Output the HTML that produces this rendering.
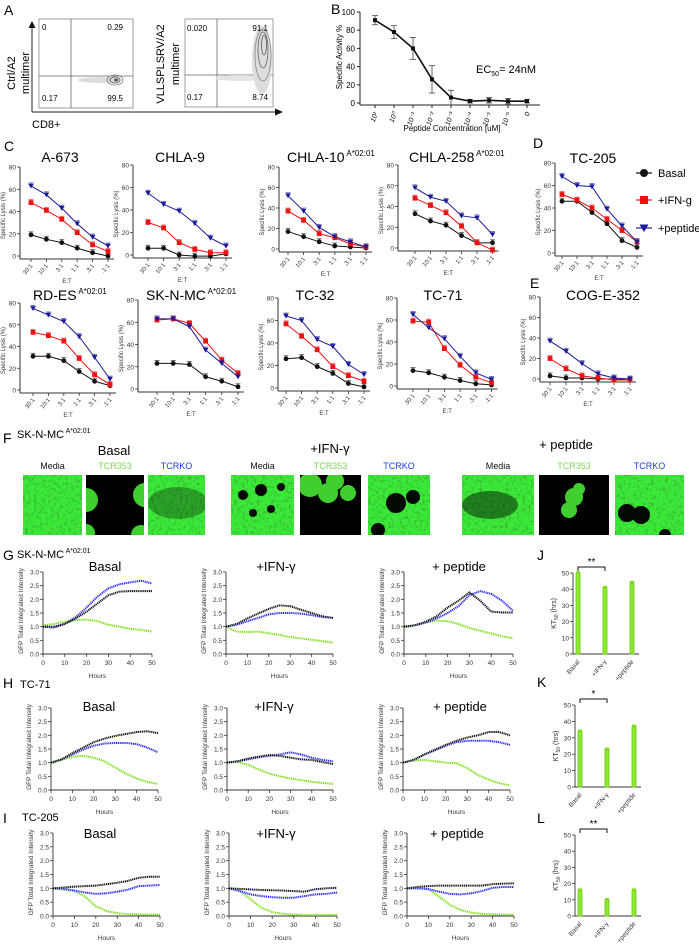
<!DOCTYPE html>
<html><head><meta charset="utf-8"><title>Figure</title>
<style>
html,body{margin:0;padding:0;background:#fff;}
svg{display:block;font-family:"Liberation Sans",Arial,sans-serif;}
</style></head>
<body>
<svg id="fig" width="699" height="945" viewBox="0 0 699 945" xmlns="http://www.w3.org/2000/svg">
<defs id="defs">
<filter id="tex" x="0" y="0" width="100%" height="100%">
<feTurbulence type="fractalNoise" baseFrequency="0.35" numOctaves="2" seed="3"/>
<feColorMatrix type="matrix" values="0 0 0 0 0.05  1.6 0 0 0 0.15  0 0 0 0 0.05  0 0 0 0 1"/>
</filter>
</defs>
<g>
<text x="4" y="15" font-size="14">A</text>
<rect x="39" y="19" width="94" height="89" fill="none" stroke="#888" stroke-width="0.8"/>
<line x1="71" y1="19" x2="71" y2="108" stroke="#666" stroke-width="0.8"/>
<line x1="39" y1="76" x2="133" y2="76" stroke="#666" stroke-width="0.8"/>
<g fill="#aaa">
<ellipse cx="100" cy="80" rx="22" ry="3" fill="#ddd"/>
<ellipse cx="115" cy="80" rx="8" ry="5" fill="none" stroke="#777" stroke-width="0.8"/>
<ellipse cx="115" cy="80" rx="5" ry="3" fill="none" stroke="#555" stroke-width="0.8"/>
<ellipse cx="116" cy="80" rx="2" ry="1.5" fill="#555"/>
</g>
<text x="42" y="30" font-size="8">0</text>
<text x="123" y="30" font-size="8" text-anchor="end">0.29</text>
<text x="42" y="101" font-size="8">0.17</text>
<text x="123" y="101" font-size="8" text-anchor="end">99.5</text>
<rect x="185" y="19" width="88" height="88" fill="none" stroke="#888" stroke-width="0.8"/>
<line x1="217" y1="19" x2="217" y2="107" stroke="#666" stroke-width="0.8"/>
<line x1="185" y1="75" x2="273" y2="75" stroke="#666" stroke-width="0.8"/>
<g>
<ellipse cx="240" cy="78" rx="25" ry="3" fill="#e4e4e4"/>
<ellipse cx="262" cy="60" rx="10" ry="34" fill="#ddd"/>
<ellipse cx="263" cy="55" rx="8" ry="26" fill="none" stroke="#888" stroke-width="0.8"/>
<ellipse cx="263" cy="50" rx="5" ry="18" fill="none" stroke="#666" stroke-width="0.8"/>
<ellipse cx="264" cy="45" rx="2.5" ry="10" fill="none" stroke="#555" stroke-width="0.8"/>
</g>
<text x="187" y="31" font-size="8">0.020</text>
<text x="268" y="31" font-size="8" text-anchor="end">91.1</text>
<text x="187" y="100" font-size="8">0.17</text>
<text x="268" y="100" font-size="8" text-anchor="end">8.74</text>
<line x1="32" y1="26" x2="32" y2="112" stroke="#222" stroke-width="1"/>
<polygon points="32,21 28.5,28 35.5,28" fill="#111"/>
<line x1="32" y1="112" x2="277" y2="112" stroke="#222" stroke-width="1"/>
<polygon points="283,112 275,108.5 275,115.5" fill="#111"/>
<text transform="translate(15,73) rotate(-90)" font-size="11" text-anchor="middle">Ctrl/A2</text>
<text transform="translate(29,73) rotate(-90)" font-size="11" text-anchor="middle">multimer</text>
<text transform="translate(164,64) rotate(-90)" font-size="11" text-anchor="middle">VLLSPLSRV/A2</text>
<text transform="translate(179,64) rotate(-90)" font-size="11" text-anchor="middle">multimer</text>
<text x="32" y="128" font-size="11">CD8+</text>
</g>
<text x="331" y="14" font-size="14">B</text>
<text x="4" y="151" font-size="14">C</text>
<text x="533" y="148" font-size="14">D</text>
<text x="530" y="288" font-size="14">E</text>
<text x="3" y="443" font-size="14">F</text>
<text x="3" y="560" font-size="14">G</text>
<text x="3" y="688" font-size="14">H</text>
<text x="3" y="823" font-size="14">I</text>
<text x="537" y="560" font-size="14">J</text>
<text x="537" y="687" font-size="14">K</text>
<text x="537" y="823" font-size="14">L</text>
<text x="17" y="438" font-size="11">SK-N-MC<tspan dy="-5" font-size="7"> A*02:01</tspan></text>
<text x="17" y="558" font-size="11">SK-N-MC<tspan dy="-5" font-size="7"> A*02:01</tspan></text>
<text x="20" y="688" font-size="11">TC-71</text>
<text x="22" y="821" font-size="11">TC-205</text>
<g id="fpanel"></g>
</svg>
<script>
const bCats = ['10\u00B9','10\u2070','10\u207B\u00B9','10\u207B\u00B2','10\u207B\u00B3','10\u207B\u2074','10\u207B\u2075','10\u207B\u2076','0'];
const bValues = [91, 78, 60, 26, 6, 2, 3, 2, 2];
const bErrors = [5, 7, 12, 15, 8, 2, 3, 3, 2];
const bTicks = [0, 20, 40, 60, 80, 100];

const etCats = ['30:1','10:1','3:1','1:1','.3:1','.1:1'];
const lysisTicks = [0, 20, 40, 60, 80];
const a673Basal = [19, 15, 12, 7, 3, 0];
const a673Ifn = [48, 41, 33, 21, 10, 4];
const a673Pep = [63, 55, 43, 29, 17, 9];
const chla9Basal = [6, 6, 0, -1, -1, 1];
const chla9Ifn = [29, 24, 11, 5, 2, 2];
const chla9Pep = [55, 45, 39, 28, 15, 8];
const chla10Basal = [17, 12, 7, 3, 2, 1];
const chla10Ifn = [37, 28, 15, 11, 5, 2];
const chla10Pep = [52, 37, 21, 12, 7, 2];
const chla258Basal = [33, 26, 22, 12, 5, 5];
const chla258Ifn = [48, 41, 34, 21, 5, -2];
const chla258Pep = [58, 49, 45, 31, 29, 13];
const tc205Basal = [46, 46, 36, 26, 11, 5];
const tc205Ifn = [52, 47, 40, 30, 20, 10];
const tc205Pep = [68, 60, 59, 39, 24, 10];
const rdesBasal = [31, 31, 27, 17, 8, 4];
const rdesIfn = [53, 50, 45, 29, 14, 5];
const rdesPep = [75, 69, 63, 49, 30, 10];
const sknmcBasal = [23, 23, 22, 11, 7, 2];
const sknmcIfn = [62, 63, 59, 43, 26, 14];
const sknmcPep = [63, 63, 56, 35, 23, 11];
const tc32Basal = [26, 27, 19, 13, 4, 1];
const tc32Ifn = [57, 46, 34, 19, 11, 6];
const tc32Pep = [64, 60, 43, 37, 21, 12];
const tc71Basal = [14, 12, 8, 5, 2, 1];
const tc71Ifn = [59, 58, 34, 19, 8, 3];
const tc71Pep = [65, 53, 43, 27, 12, 6];
const cogBasal = [3, 1, 1, 0, 0, -1];
const cogIfn = [20, 10, 3, 1, -1, -1];
const cogPep = [37, 27, 15, 5, 1, 0];

const hours = [0, 5, 10, 15, 20, 25, 30, 35, 40, 45, 50];
const gfpTicks = [0, 0.5, 1.0, 1.5, 2.0, 2.5, 3.0];
const hourTicks = [0, 10, 20, 30, 40, 50];
const gBasalMedia = [1.0, 0.97, 1.1, 1.3, 1.55, 1.85, 2.15, 2.28, 2.3, 2.3, 2.3];
const gBasalKO = [1.0, 1.0, 1.1, 1.35, 1.7, 2.1, 2.4, 2.55, 2.62, 2.68, 2.58];
const gBasalTCR = [1.05, 1.1, 1.18, 1.24, 1.26, 1.2, 1.07, 1.0, 0.92, 0.88, 0.82];
const gIfnMedia = [1.0, 1.1, 1.3, 1.48, 1.65, 1.78, 1.75, 1.62, 1.5, 1.38, 1.32];
const gIfnKO = [1.0, 1.07, 1.2, 1.32, 1.45, 1.5, 1.5, 1.48, 1.42, 1.35, 1.32];
const gIfnTCR = [1.0, 0.82, 0.8, 0.82, 0.76, 0.7, 0.62, 0.57, 0.52, 0.47, 0.42];
const gPepMedia = [1.0, 1.05, 1.18, 1.38, 1.7, 1.95, 2.25, 1.95, 1.55, 1.52, 1.52];
const gPepKO = [1.0, 1.05, 1.15, 1.3, 1.5, 1.75, 2.15, 2.3, 2.2, 1.95, 1.58];
const gPepTCR = [0.97, 1.05, 1.15, 1.22, 1.2, 1.1, 0.95, 0.85, 0.75, 0.65, 0.58];
const hBasalMedia = [1.0, 1.12, 1.35, 1.55, 1.75, 1.88, 1.98, 2.05, 2.12, 2.15, 2.08];
const hBasalKO = [1.0, 1.12, 1.3, 1.48, 1.62, 1.7, 1.72, 1.72, 1.68, 1.55, 1.38];
const hBasalTCR = [0.97, 1.1, 1.22, 1.25, 1.18, 1.05, 0.82, 0.6, 0.42, 0.3, 0.22];
const hIfnMedia = [1.0, 1.05, 1.15, 1.22, 1.28, 1.25, 1.18, 1.12, 1.1, 1.02, 0.95];
const hIfnKO = [1.0, 1.05, 1.12, 1.2, 1.25, 1.3, 1.38, 1.3, 1.18, 1.1, 1.05];
const hIfnTCR = [1.0, 1.02, 0.92, 0.75, 0.6, 0.5, 0.42, 0.36, 0.3, 0.26, 0.22];
const hPepMedia = [1.0, 1.1, 1.3, 1.48, 1.65, 1.8, 1.92, 2.0, 2.12, 2.12, 2.0];
const hPepKO = [1.0, 1.1, 1.3, 1.45, 1.62, 1.75, 1.8, 1.8, 1.8, 1.75, 1.65];
const hPepTCR = [1.0, 1.08, 1.1, 1.05, 1.0, 0.98, 0.8, 0.55, 0.38, 0.25, 0.17];
const iBasalMedia = [1.0, 1.03, 1.06, 1.08, 1.1, 1.15, 1.2, 1.27, 1.38, 1.42, 1.42];
const iBasalKO = [1.0, 0.98, 0.92, 0.85, 0.8, 0.82, 0.88, 0.95, 1.08, 1.1, 1.12];
const iBasalTCR = [1.0, 0.95, 0.9, 0.7, 0.35, 0.18, 0.1, 0.07, 0.06, 0.05, 0.05];
const iIfnMedia = [1.0, 0.98, 0.96, 0.94, 0.93, 0.92, 0.9, 0.88, 0.97, 1.0, 1.02];
const iIfnKO = [1.0, 0.9, 0.78, 0.72, 0.68, 0.66, 0.66, 0.72, 0.78, 0.8, 0.85];
const iIfnTCR = [1.0, 0.92, 0.6, 0.3, 0.14, 0.08, 0.05, 0.04, 0.04, 0.04, 0.04];
const iPepMedia = [1.0, 1.05, 1.08, 1.1, 1.1, 1.1, 1.1, 1.1, 1.15, 1.17, 1.18];
const iPepKO = [1.0, 1.0, 0.97, 0.88, 0.8, 0.78, 0.82, 0.9, 1.02, 1.05, 1.05];
const iPepTCR = [1.0, 1.0, 0.98, 0.7, 0.4, 0.22, 0.12, 0.08, 0.06, 0.05, 0.05];

const ktCats = ['Basal', '+IFN-\u03B3', '+peptide'];
const ktTicks = [0, 10, 20, 30, 40, 50];
const jValues = [50, 41, 44];
const kValues = [34, 23, 37];
const lValues = [16, 10, 16];

const NS = 'http://www.w3.org/2000/svg';
const svg = document.getElementById('fig');
function mk(tag, attrs, parent) {
  const e = document.createElementNS(NS, tag);
  for (const k in attrs) e.setAttribute(k, attrs[k]);
  (parent || svg).appendChild(e);
  return e;
}
function txt(parent, x, y, s, size, anchor, extra) {
  const t = mk('text', Object.assign({x: x, y: y, 'font-size': size, 'text-anchor': anchor || 'start'}, extra || {}), parent);
  t.textContent = s;
  return t;
}

(function () {
  const g = mk('g', {});
  
  
  const ax = 360, yTop = 12, y0 = 103, x0 = 375, step = 19;
  const y = v => y0 - v / 100 * (y0 - yTop);
  const x = i => x0 + i * step;
  mk('line', {x1: ax, y1: yTop, x2: ax, y2: y0 + 2, stroke: '#222', 'stroke-width': 1}, g);
  mk('line', {x1: ax, y1: y0 + 2, x2: 540, y2: y0 + 2, stroke: '#222', 'stroke-width': 1}, g);
  bTicks.forEach(t => {
    mk('line', {x1: ax - 3, y1: y(t), x2: ax, y2: y(t), stroke: '#222', 'stroke-width': 1}, g);
    const l = txt(g, ax - 5, y(t) + 3, String(t), 8, 'end');
    
    
  });
  bCats.forEach((c, i) => {
    mk('line', {x1: x(i), y1: y0 + 2, x2: x(i), y2: y0 + 5, stroke: '#222', 'stroke-width': 1}, g);
    const l = txt(g, x(i) + 3, y0 + 10, c, 7, 'end', {transform: 'rotate(-70 ' + (x(i) + 3) + ' ' + (y0 + 10) + ')', 'font-style': 'italic'});
    
    
  });
  mk('polyline', {points: bValues.map((v, i) => x(i) + ',' + y(v)).join(' '), fill: 'none', stroke: '#111', 'stroke-width': 1.6}, g);
  bValues.forEach((v, i) => {
    const e = bErrors[i];
    mk('line', {x1: x(i), y1: y(v - e), x2: x(i), y2: y(v + e), stroke: '#444', 'stroke-width': 0.8}, g);
    mk('line', {x1: x(i) - 3, y1: y(v + e), x2: x(i) + 3, y2: y(v + e), stroke: '#444', 'stroke-width': 0.8}, g);
    mk('line', {x1: x(i) - 3, y1: y(v - e), x2: x(i) + 3, y2: y(v - e), stroke: '#444', 'stroke-width': 0.8}, g);
    const p = mk('rect', {x: x(i) - 2, y: y(v) - 2, width: 4, height: 4, fill: '#111'}, g);
    
    
  });
  const yl = txt(g, 0, 0, 'Specific Activity %', 8, 'middle', {transform: 'translate(342,57) rotate(-90)'});
  
  
  const xl = txt(g, 452, 131, 'Peptide Concentration [uM]', 8, 'middle');
  
  
  const ec = mk('text', {x: 476, y: 73, 'font-size': 11}, g);
  
  
  ec.innerHTML = 'EC<tspan font-size="7" dy="3">50</tspan><tspan dy="-3">= 24nM</tspan>';
})();

const RED = '#ee1111', BLUE = '#1a1a9a';
function lysis(cfg, basal, ifn, pep) {
  const g = mk('g', {});
  
  
  const y = v => cfg.y0 - v / 80 * (cfg.y0 - cfg.y80);
  const x = i => cfg.px0 + i * cfg.step;
  mk('line', {x1: cfg.ax, y1: cfg.y80, x2: cfg.ax, y2: cfg.y0 + 3, stroke: '#333', 'stroke-width': 1}, g);
  mk('line', {x1: cfg.ax, y1: cfg.y0 + 3, x2: x(5) + 6, y2: cfg.y0 + 3, stroke: '#333', 'stroke-width': 1}, g);
  lysisTicks.forEach(t => {
    mk('line', {x1: cfg.ax - 3, y1: y(t), x2: cfg.ax, y2: y(t), stroke: '#333', 'stroke-width': 0.8}, g);
    const l = txt(g, cfg.ax - 4, y(t) + 2.5, String(t), 6.5, 'end', {fill: '#333'});
    
    
  });
  etCats.forEach((c, i) => {
    mk('line', {x1: x(i), y1: cfg.y0 + 3, x2: x(i), y2: cfg.y0 + 6, stroke: '#333', 'stroke-width': 0.8}, g);
    const l = txt(g, x(i) + 2, cfg.y0 + 10, c, 6, 'end', {transform: 'rotate(-50 ' + (x(i) + 2) + ' ' + (cfg.y0 + 10) + ')', fill: '#333'});
    
    
  });
  const et = txt(g, (cfg.ax + x(5)) / 2 + 3, cfg.y0 + 27, 'E:T', 6, 'middle', {fill: '#333'});
  
  
  const yl = txt(g, 0, 0, 'Specific Lysis (%)', 6, 'middle', {transform: 'translate(' + (cfg.ax - 15) + ',' + ((cfg.y0 + cfg.y80) / 2 + 4) + ') rotate(-90)', fill: '#333'});
  
  
  const tt = mk('text', {x: cfg.tx, y: cfg.ty, 'font-size': 14, 'text-anchor': cfg.anchor || 'middle'}, g);
  
  
  tt.innerHTML = cfg.title + (cfg.sup ? '<tspan font-size="8" dy="-6"> A*02:01</tspan>' : '');
  const series = [[basal, '#111', 'c'], [ifn, RED, 's'], [pep, BLUE, 't']];
  series.forEach(([vals, col, shape]) => {
    const ln = mk('polyline', {points: vals.map((v, i) => x(i) + ',' + y(v)).join(' '), fill: 'none', stroke: col, 'stroke-width': 1}, g);
    
    
    vals.forEach((v, i) => {
      const cx = x(i), cy = y(v);
      mk('line', {x1: cx, y1: cy, x2: cx, y2: cy - 3, stroke: col, 'stroke-width': 0.8, opacity: 0.7}, g);
      mk('line', {x1: cx - 2.5, y1: cy - 3, x2: cx + 2.5, y2: cy - 3, stroke: col, 'stroke-width': 0.8, opacity: 0.7}, g);
      let m;
      if (shape === 'c') m = mk('circle', {cx: cx, cy: cy, r: 2.4, fill: col}, g);
      else if (shape === 's') m = mk('rect', {x: cx - 2.4, y: cy - 2.4, width: 4.8, height: 4.8, fill: col}, g);
      else m = mk('polygon', {points: (cx - 2.8) + ',' + (cy - 2.2) + ' ' + (cx + 2.8) + ',' + (cy - 2.2) + ' ' + cx + ',' + (cy + 2.6), fill: col}, g);
      
      
    });
  });
}
lysis({name: 'chart-a673', ax: 20, y80: 167, y0: 256, px0: 31, step: 15.4, title: 'A-673', tx: 60, ty: 162}, a673Basal, a673Ifn, a673Pep);
lysis({name: 'chart-chla9', ax: 133, y80: 165, y0: 255, px0: 148, step: 15.6, title: 'CHLA-9', tx: 180, ty: 162}, chla9Basal, chla9Ifn, chla9Pep);
lysis({name: 'chart-chla10', ax: 279, y80: 167, y0: 249, px0: 288, step: 15.6, title: 'CHLA-10', tx: 287, ty: 162, anchor: 'start', sup: true}, chla10Basal, chla10Ifn, chla10Pep);
lysis({name: 'chart-chla258', ax: 398, y80: 165, y0: 248, px0: 415, step: 15.5, title: 'CHLA-258', tx: 409, ty: 162, anchor: 'start', sup: true}, chla258Basal, chla258Ifn, chla258Pep);
lysis({name: 'chart-tc205', ax: 555, y80: 163, y0: 253, px0: 562, step: 15.0, title: 'TC-205', tx: 593, ty: 163}, tc205Basal, tc205Ifn, tc205Pep);
lysis({name: 'chart-rdes', ax: 20, y80: 303, y0: 390, px0: 33, step: 15.4, title: 'RD-ES', tx: 33, ty: 300, anchor: 'start', sup: true}, rdesBasal, rdesIfn, rdesPep);
lysis({name: 'chart-sknmc', ax: 138, y80: 300, y0: 389, px0: 157, step: 16.2, title: 'SK-N-MC', tx: 146, ty: 300, anchor: 'start', sup: true}, sknmcBasal, sknmcIfn, sknmcPep);
lysis({name: 'chart-tc32', ax: 278, y80: 298, y0: 388, px0: 286, step: 15.6, title: 'TC-32', tx: 315, ty: 300}, tc32Basal, tc32Ifn, tc32Pep);
lysis({name: 'chart-tc71', ax: 397, y80: 298, y0: 386, px0: 413, step: 15.7, title: 'TC-71', tx: 443, ty: 300}, tc71Basal, tc71Ifn, tc71Pep);
lysis({name: 'chart-cog-e-352', ax: 540, y80: 297, y0: 379, px0: 550, step: 16, title: 'COG-E-352', tx: 603, ty: 300}, cogBasal, cogIfn, cogPep);

(function () {
  const g = mk('g', {});
  
  
  const items = [['Basal', '#111', 'c', 173], ['+IFN-g', RED, 's', 200], ['+peptide', BLUE, 't', 228]];
  items.forEach(([lab, col, sh, yy]) => {
    const e = mk('g', {}, g);
    
    
    mk('line', {x1: 636, y1: yy, x2: 652, y2: yy, stroke: col, 'stroke-width': 1.2}, e);
    if (sh === 'c') mk('circle', {cx: 644, cy: yy, r: 4, fill: col}, e);
    else if (sh === 's') mk('rect', {x: 640, y: yy - 4, width: 8, height: 8, fill: col}, e);
    else mk('polygon', {points: '639.5,' + (yy - 3.5) + ' 648.5,' + (yy - 3.5) + ' 644,' + (yy + 4), fill: col}, e);
    txt(e, 658, yy + 4, lab, 11, 'start');
  });
})();

(function () {
  const f = document.getElementById('fpanel');
  const defs = document.getElementById('defs');
  const heads = [['Basal', 114, 455], ['+IFN-\u03B3', 330, 453], ['+ peptide', 566, 449]];
  heads.forEach(([s, x, y]) => {
    const t = txt(f, x, y, s, 13, 'middle');
    
    
  });
  const imgs = [
    [23, 82, 'Media', 'g', []],
    [86, 144, 'TCR353', 'k', [[0, 25, 12], [59, 20, 12], [0, 58, 9], [55, 60, 10]]],
    [148, 205, 'TCRKO', 'g', [[-1, 28, 30, 10, 0.3]]],
    [231, 294, 'Media', 'g', [[12, 20, 5], [30, 15, 6], [50, 12, 4], [22, 38, 4], [40, 34, 4]]],
    [300, 361, 'TCR353', 'k', [[10, 10, 12], [28, 18, 10], [35, 6, 9], [48, 18, 8]]],
    [368, 430, 'TCRKO', 'g', [[28, 28, 10], [45, 22, 7], [10, 55, 7]]],
    [462, 534, 'Media', 'g', [[-1, 30, 28, 8, 0.45]]],
    [539, 609, 'TCR353', 'k', [[35, 22, 9], [30, 35, 8], [40, 14, 6]]],
    [615, 684, 'TCRKO', 'g', [[12, 38, 9], [26, 40, 9], [50, 60, 6]]]
  ];
  const labCol = {Media: '#111', TCR353: '#7ed957', TCRKO: '#1a3fd8'};
  imgs.forEach(([x1, x2, lab, bg, blobs], idx) => {
    const g = mk('g', {}, f);
    
    
    const w = x2 - x1, y1 = 475, h = 60;
    const cp = mk('clipPath', {id: 'clipimg' + idx}, defs);
    mk('rect', {x: x1, y: y1, width: w, height: h}, cp);
    const l = txt(g, (x1 + x2) / 2, 469, lab, 9, 'middle', {fill: labCol[lab]});
    
    
    const ig = mk('g', {'clip-path': 'url(#clipimg' + idx + ')'}, g);
    if (bg === 'g') {
      mk('rect', {x: x1, y: y1, width: w, height: h, fill: '#2a9a18'}, ig);
      mk('rect', {x: x1, y: y1, width: w, height: h, filter: 'url(#tex)', opacity: 0.8}, ig);
      blobs.forEach(b => {
        if (b.length === 5) mk('ellipse', {cx: x1 + b[2], cy: y1 + b[1], rx: b[2], ry: b[3] + 6, fill: '#000', opacity: b[4]}, ig);
        else mk('circle', {cx: x1 + b[0], cy: y1 + b[1], r: b[2], fill: '#020802'}, ig);
      });
    } else {
      mk('rect', {x: x1, y: y1, width: w, height: h, fill: '#000'}, ig);
      blobs.forEach(b => mk('circle', {cx: x1 + b[0], cy: y1 + b[1], r: b[2], fill: '#3fd030'}, ig));
    }
  });
})();

const C_BLACK = '#111', C_BLUE = '#2b2bff', C_GREEN = '#7fe01a';
function gfp(cfg, media, ko, tcr) {
  const g = mk('g', {});
  
  
  const x = h => cfg.ax + h / 50 * (cfg.x50 - cfg.ax);
  const y = v => cfg.y0 - v / 3 * (cfg.y0 - cfg.y3);
  mk('line', {x1: cfg.ax, y1: cfg.y3, x2: cfg.ax, y2: cfg.y0, stroke: '#333', 'stroke-width': 0.9}, g);
  mk('line', {x1: cfg.ax, y1: cfg.y0, x2: cfg.x50, y2: cfg.y0, stroke: '#333', 'stroke-width': 0.9}, g);
  gfpTicks.forEach(t => {
    mk('line', {x1: cfg.ax - 3, y1: y(t), x2: cfg.ax, y2: y(t), stroke: '#333', 'stroke-width': 0.8}, g);
    const l = txt(g, cfg.ax - 4, y(t) + 2.5, t.toFixed(1), 6.5, 'end', {fill: '#333'});
    
    
  });
  hourTicks.forEach(t => {
    mk('line', {x1: x(t), y1: cfg.y0, x2: x(t), y2: cfg.y0 + 3, stroke: '#333', 'stroke-width': 0.8}, g);
    const l = txt(g, x(t), cfg.y0 + 11, String(t), 6.5, 'middle', {fill: '#333'});
    
    
  });
  const xl = txt(g, (cfg.ax + cfg.x50) / 2, cfg.y0 + 24, 'Hours', 6.5, 'middle', {fill: '#333'});
  
  
  const yl = txt(g, 0, 0, 'GFP Total Integrated Intensity', 6.5, 'middle', {transform: 'translate(' + (cfg.ax - 20) + ',' + ((cfg.y0 + cfg.y3) / 2 - 2) + ') rotate(-90)', fill: '#333'});
  
  
  const tt = txt(g, cfg.tx, cfg.ty, cfg.title, 13, 'middle');
  
  
  [[tcr, C_GREEN], [ko, C_BLUE], [media, C_BLACK]].forEach(([vals, col]) => {
    const ln = mk('polyline', {points: vals.map((v, i) => x(hours[i]) + ',' + y(v)).join(' '), fill: 'none', stroke: col, 'stroke-width': 2, 'stroke-dasharray': '1.2 0.7'}, g);
    
    
  });
}
gfp({name: 'g-basal', ax: 43, x50: 152, y3: 572, y0: 654, title: 'Basal', tx: 105, ty: 571}, gBasalMedia, gBasalKO, gBasalTCR);
gfp({name: 'g-ifn', ax: 226, x50: 333, y3: 572, y0: 654, title: '+IFN-\u03B3', tx: 276, ty: 571}, gIfnMedia, gIfnKO, gIfnTCR);
gfp({name: 'g-peptide', ax: 404, x50: 513, y3: 572, y0: 654, title: '+ peptide', tx: 459, ty: 571}, gPepMedia, gPepKO, gPepTCR);
gfp({name: 'h-basal', ax: 51, x50: 158, y3: 708, y0: 790, title: 'Basal', tx: 99, ty: 711}, hBasalMedia, hBasalKO, hBasalTCR);
gfp({name: 'h-ifn', ax: 227, x50: 333, y3: 708, y0: 790, title: '+IFN-\u03B3', tx: 274, ty: 711}, hIfnMedia, hIfnKO, hIfnTCR);
gfp({name: 'h-peptide', ax: 403, x50: 510, y3: 708, y0: 790, title: '+ peptide', tx: 460, ty: 711}, hPepMedia, hPepKO, hPepTCR);
gfp({name: 'i-basal', ax: 53, x50: 160, y3: 833, y0: 916, title: 'Basal', tx: 100, ty: 838}, iBasalMedia, iBasalKO, iBasalTCR);
gfp({name: 'i-ifn', ax: 229, x50: 337, y3: 833, y0: 916, title: '+IFN-\u03B3', tx: 276, ty: 838}, iIfnMedia, iIfnKO, iIfnTCR);
gfp({name: 'i-peptide', ax: 407, x50: 514, y3: 833, y0: 916, title: '+ peptide', tx: 457, ty: 838}, iPepMedia, iPepKO, iPepTCR);

function kt(cfg, vals) {
  const g = mk('g', {});
  
  
  const y = v => cfg.y0 - v / 50 * (cfg.y0 - cfg.y50);
  const x = i => cfg.ax + 5 + i * 27;
  mk('line', {x1: cfg.ax, y1: cfg.y50, x2: cfg.ax, y2: cfg.y0, stroke: '#333', 'stroke-width': 0.9}, g);
  mk('line', {x1: cfg.ax, y1: cfg.y0, x2: cfg.ax + 66, y2: cfg.y0, stroke: '#333', 'stroke-width': 0.9}, g);
  ktTicks.forEach(t => {
    mk('line', {x1: cfg.ax - 3, y1: y(t), x2: cfg.ax, y2: y(t), stroke: '#333', 'stroke-width': 0.8}, g);
    const l = txt(g, cfg.ax - 4, y(t) + 2.5, String(t), 6.5, 'end', {fill: '#333'});
    
    
  });
  ktCats.forEach((c, i) => {
    const l = txt(g, x(i) + 2, cfg.y0 + 8, c, 6.5, 'end', {transform: 'rotate(-50 ' + (x(i) + 2) + ' ' + (cfg.y0 + 8) + ')', fill: '#333'});
    
    
  });
  vals.forEach((v, i) => {
    const b = mk('rect', {x: x(i) - 2, y: y(v), width: 4, height: cfg.y0 - y(v), fill: '#8de830', stroke: '#6cc815', 'stroke-width': 0.8}, g);
    
    
    mk('line', {x1: x(i) - 2, y1: y(v) - 1, x2: x(i) + 2, y2: y(v) - 1, stroke: '#7fe01a', 'stroke-width': 1.5}, g);
  });
  const yl = mk('text', {'font-size': 7, 'text-anchor': 'middle', transform: 'translate(' + (cfg.ax - 17) + ',' + ((cfg.y0 + cfg.y50) / 2) + ') rotate(-90)', fill: '#333'}, g);
  
  
  yl.innerHTML = 'KT<tspan font-size="5" dy="2">50</tspan><tspan dy="-2"> (hrs)</tspan>';
  const by = cfg.y50 - 6;
  mk('path', {d: 'M' + x(0) + ',' + (by + 4) + ' V' + by + ' H' + x(1) + ' V' + (by + 4), fill: 'none', stroke: '#111', 'stroke-width': 1}, g);
  const s = txt(g, (x(0) + x(1)) / 2, by - 2, cfg.sig, 10, 'middle');
  
  
}
kt({name: 'j-kt50', ax: 573, y50: 573, y0: 654, sig: '**'}, jValues);
kt({name: 'k-kt50', ax: 575, y50: 705, y0: 787, sig: '*'}, kValues);
kt({name: 'l-kt50', ax: 575, y50: 835, y0: 916, sig: '**'}, lValues);
</script>
</body></html>
